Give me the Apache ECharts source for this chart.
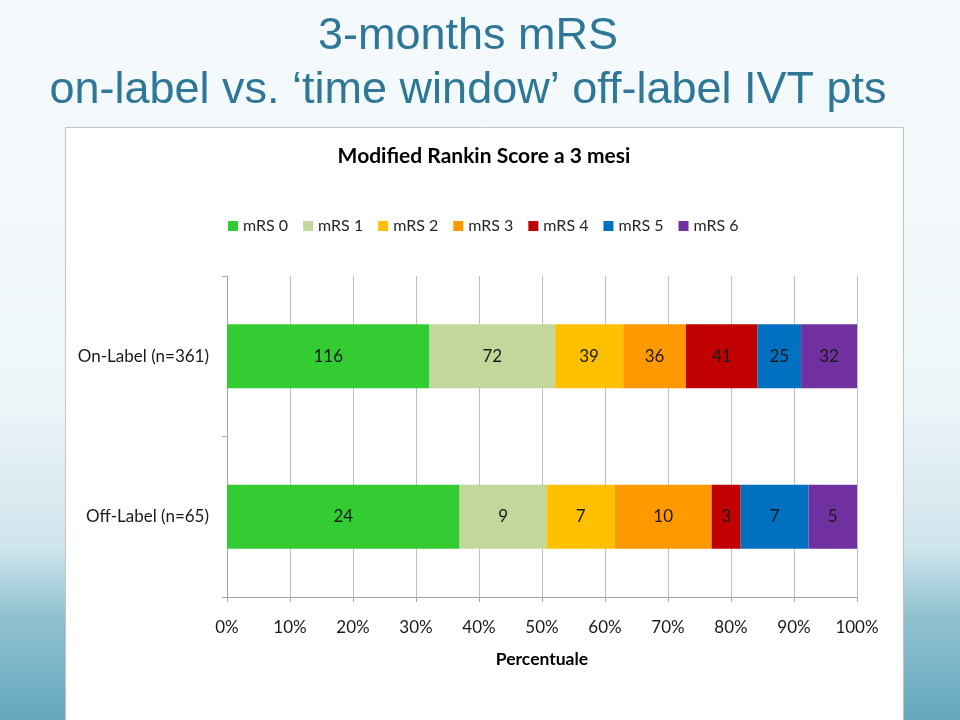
<!DOCTYPE html>
<html>
<head>
<meta charset="utf-8">
<script src="https://cdn.jsdelivr.net/npm/echarts@6/dist/echarts.min.js"></script>
<style>
html,body{margin:0;padding:0;}
#main{width:960px;height:720px;}
</style>
</head>
<body>
<div id="main"></div>
<script>
var categories = ['On-Label (n=361)', 'Off-Label (n=65)'];
var seriesNames = ['mRS 0', 'mRS 1', 'mRS 2', 'mRS 3', 'mRS 4', 'mRS 5', 'mRS 6'];
var onLabel = [116, 72, 39, 36, 41, 25, 32];
var offLabel = [24, 9, 7, 10, 3, 7, 5];
var xTicks = [0, 10, 20, 30, 40, 50, 60, 70, 80, 90, 100];
var colors = ['#33CC33', '#C4D79B', '#FFC000', '#FF9900', '#C00000', '#0070C0', '#7030A0'];

var rows = [onLabel, offLabel];
var totals = rows.map(function (r) { return r.reduce(function (a, b) { return a + b; }, 0); });

var series = seriesNames.map(function (name, i) {
  return {
    name: name,
    type: 'bar',
    stack: 'total',
    barWidth: '40%',
    itemStyle: { color: colors[i] },
    label: {
      show: true,
      position: 'inside',
      color: '#1a1a1a',
      fontFamily: 'Lato',
      fontSize: 17,
      formatter: function (p) { return p.data.count; }
    },
    data: rows.map(function (r, j) {
      return { value: r[i] / totals[j] * 100, count: r[i] };
    })
  };
});

var chart = echarts.init(document.getElementById('main'));
chart.setOption({
  backgroundColor: new echarts.graphic.LinearGradient(0, 0, 0, 1, [
    { offset: 0, color: '#F5FAFC' },
    { offset: 0.55, color: '#EFF6F9' },
    { offset: 0.76, color: '#CFE4EC' },
    { offset: 0.86, color: '#8FC0D0' },
    { offset: 1, color: '#64A8BE' }
  ]),
  color: colors,
  graphic: [{
    type: 'rect',
    z: -100,
    silent: true,
    shape: { x: 65.5, y: 127.5, width: 838, height: 620 },
    style: { fill: '#FFFFFF', stroke: '#C4C4C4', lineWidth: 1 }
  }],
  title: [{
    text: '3-months mRS',
    left: 463,
    textAlign: 'center',
    top: 9,
    textStyle: { fontFamily: 'Liberation Sans', fontSize: 45, fontWeight: 'normal', color: '#2E7797' }
  }, {
    text: 'on-label vs. \u2018time window\u2019 off-label IVT pts',
    left: 463,
    textAlign: 'center',
    top: 63,
    textStyle: { fontFamily: 'Liberation Sans', fontSize: 45, fontWeight: 'normal', color: '#2E7797' }
  }, {
    text: 'Modified Rankin Score a 3 mesi',
    left: 479,
    textAlign: 'center',
    top: 141,
    textStyle: { fontFamily: 'Lato', fontSize: 21, fontWeight: 'bold', color: '#000000' }
  }],
  legend: {
    data: seriesNames,
    top: 213,
    left: 223,
    itemWidth: 10,
    itemHeight: 10,
    itemGap: 15,
    icon: 'rect',
    textStyle: { fontFamily: 'Lato', fontSize: 16, color: '#262626' }
  },
  grid: { left: 227, right: 103, top: 276, bottom: 123, containLabel: false },
  xAxis: {
    type: 'value',
    min: 0,
    max: 100,
    interval: 10,
    name: 'Percentuale',
    nameLocation: 'middle',
    nameGap: 53,
    nameTextStyle: { fontFamily: 'Lato', fontSize: 17.5, fontWeight: 'bold', color: '#000' },
    axisLine: { show: true, lineStyle: { color: '#A6A6A6' } },
    axisTick: { show: true, length: 5, lineStyle: { color: '#A6A6A6' } },
    axisLabel: {
      fontFamily: 'Lato', fontSize: 17, color: '#1a1a1a', margin: 22,
      formatter: function (v) { return xTicks.indexOf(v) >= 0 ? v + '%' : ''; }
    },
    splitLine: { show: true, lineStyle: { color: '#BFBFBF' } }
  },
  yAxis: {
    type: 'category',
    data: categories,
    inverse: true,
    axisLine: { show: true, lineStyle: { color: '#A6A6A6' } },
    axisTick: { show: true, length: 5, lineStyle: { color: '#A6A6A6' } },
    axisLabel: { fontFamily: 'Lato', fontSize: 17, color: '#1a1a1a', margin: 18 }
  },
  series: series
});
</script>
</body>
</html>
